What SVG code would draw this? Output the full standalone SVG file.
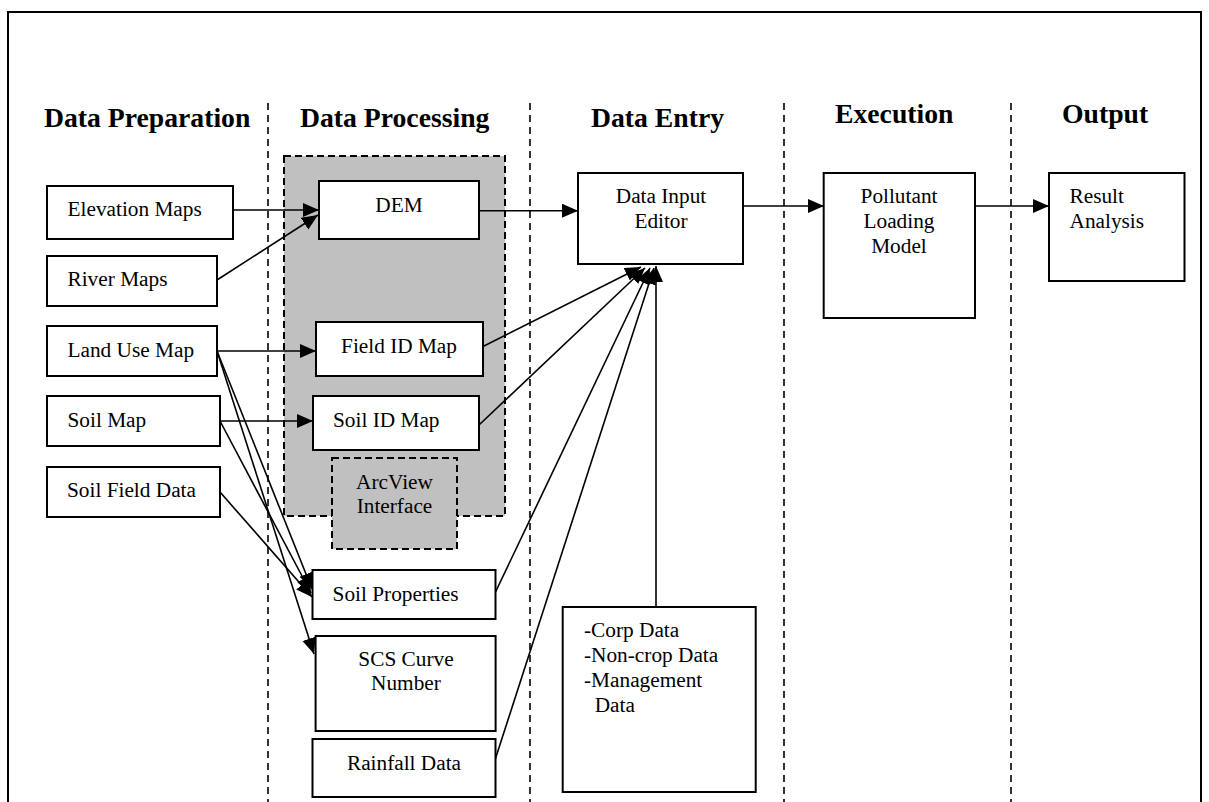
<svg xmlns="http://www.w3.org/2000/svg" width="1209" height="802" viewBox="0 0 1209 802">
<defs>
<style>
.t{font-family:"Liberation Serif","Times New Roman",serif;font-size:21.3px;fill:#000}
.h{font-family:"Liberation Serif","Times New Roman",serif;font-size:27.7px;font-weight:bold;fill:#000}
.c{text-anchor:middle}
.box{fill:#fff;stroke:#000;stroke-width:2}
.gbox{fill:#c0c0c0;stroke:#000;stroke-width:2;stroke-dasharray:7,4}
.sep{stroke:#000;stroke-width:1.6;stroke-dasharray:7,5;fill:none}
.ln{stroke:#000;stroke-width:1.6;fill:none;marker-end:url(#ah)}
.pl{stroke:#000;stroke-width:1.6;fill:none}
</style>
<marker id="ah" markerUnits="userSpaceOnUse" markerWidth="17" markerHeight="15" refX="16" refY="7" orient="auto">
<path d="M0,0 L16,7 L0,14 z" fill="#000"/>
</marker>
</defs>
<rect x="0" y="0" width="1209" height="802" fill="#fff"/>
<rect id="frame" x="8" y="12" width="1193" height="820" fill="none" stroke="#000" stroke-width="2"/>

<g id="separators">
<line class="sep" x1="268" y1="103" x2="268" y2="802"/>
<line class="sep" x1="530" y1="103" x2="530" y2="802"/>
<line class="sep" x1="784" y1="103" x2="784" y2="802"/>
<line class="sep" x1="1011" y1="103" x2="1011" y2="802"/>
</g>

<g id="headers">
<text class="h" x="44" y="126.5">Data Preparation</text>
<text class="h" x="300" y="126.5">Data Processing</text>
<text class="h" x="591" y="126.5">Data Entry</text>
<text class="h" x="835" y="122.7">Execution</text>
<text class="h" x="1062" y="122.7">Output</text>
</g>

<g id="processing-group">
<rect class="gbox" x="284" y="156" width="221" height="360"/>
</g>
<g id="arcview">
<rect class="gbox" x="332" y="458" width="125" height="91"/>
<text class="t c" x="394.5" y="489">ArcView</text>
<text class="t c" x="394.5" y="513">Interface</text>
</g>

<g id="connectors">
<line class="ln" x1="233" y1="210" x2="319" y2="210"/>
<line class="ln" x1="217" y1="280" x2="318" y2="215"/>
<line class="ln" x1="217" y1="351" x2="316" y2="351"/>
<line class="ln" x1="220" y1="421" x2="313" y2="421"/>
<line class="ln" x1="217" y1="351" x2="312" y2="589"/>
<line class="ln" x1="217" y1="351" x2="314" y2="654"/>
<line class="ln" x1="220" y1="421" x2="311" y2="593"/>
<line class="ln" x1="220" y1="492" x2="312" y2="597"/>
<line class="ln" x1="479" y1="210.7" x2="578" y2="210.7"/>
<line class="ln" x1="482" y1="347" x2="641" y2="267"/>
<line class="ln" x1="479" y1="425" x2="645" y2="268"/>
<line class="ln" x1="495" y1="593" x2="650" y2="268"/>
<line class="ln" x1="495" y1="760" x2="654" y2="268"/>
<line class="ln" x1="656" y1="607" x2="656" y2="266"/>
<line class="ln" x1="743" y1="206" x2="824" y2="206"/>
<line class="ln" x1="975" y1="206" x2="1049" y2="206"/>
</g>

<g id="elevation-maps">
<rect class="box" x="47" y="186" width="186" height="53"/>
<text class="t" x="67.5" y="216">Elevation Maps</text>
</g>
<g id="river-maps">
<rect class="box" x="47" y="256" width="170" height="50"/>
<text class="t" x="67.5" y="285.7">River Maps</text>
</g>
<g id="land-use-map">
<rect class="box" x="47" y="326" width="170" height="50"/>
<text class="t" x="67.5" y="356.7">Land Use Map</text>
</g>
<g id="soil-map">
<rect class="box" x="47" y="396" width="173" height="50"/>
<text class="t" x="67.5" y="426.7">Soil Map</text>
</g>
<g id="soil-field-data">
<rect class="box" x="47" y="467" width="173" height="50"/>
<text class="t" x="67" y="496.7">Soil Field Data</text>
</g>

<g id="dem">
<rect class="box" x="319" y="181" width="160" height="58"/>
<text class="t c" x="399" y="211.7">DEM</text>
</g>
<g id="field-id-map">
<rect class="box" x="316" y="322" width="167" height="54"/>
<text class="t c" x="399" y="352.7">Field ID Map</text>
</g>
<g id="soil-id-map">
<rect class="box" x="313" y="396" width="166" height="54"/>
<text class="t" x="333" y="426.7">Soil ID Map</text>
</g>
<g id="soil-properties">
<rect class="box" x="312.5" y="570" width="183" height="49"/>
<text class="t" x="332.6" y="601">Soil Properties</text>
</g>
<g id="scs-curve-number">
<rect class="box" x="315.6" y="636" width="180" height="95"/>
<text class="t c" x="406" y="666">SCS Curve</text>
<text class="t c" x="406" y="690">Number</text>
</g>
<g id="rainfall-data">
<rect class="box" x="312.5" y="739" width="183" height="58"/>
<text class="t c" x="404" y="770">Rainfall Data</text>
</g>

<g id="data-input-editor">
<rect class="box" x="578" y="173" width="165" height="91"/>
<text class="t c" x="661" y="203">Data Input</text>
<text class="t c" x="661" y="228">Editor</text>
</g>
<g id="crop-data">
<rect class="box" x="562.7" y="607" width="193" height="185"/>
<text class="t" x="584" y="636.7">-Corp Data</text>
<text class="t" x="584" y="661.7">-Non-crop Data</text>
<text class="t" x="584" y="686.7">-Management</text>
<text class="t" x="584" y="711.7" xml:space="preserve">  Data</text>
</g>
<g id="pollutant-loading-model">
<rect class="box" x="823.7" y="173" width="151.3" height="145"/>
<text class="t c" x="899" y="203.3">Pollutant</text>
<text class="t c" x="899" y="228.3">Loading</text>
<text class="t c" x="899" y="252.7">Model</text>
</g>
<g id="result-analysis">
<rect class="box" x="1049" y="173" width="135.5" height="108"/>
<text class="t" x="1069.5" y="203">Result</text>
<text class="t" x="1069.5" y="228">Analysis</text>
</g>
</svg>
